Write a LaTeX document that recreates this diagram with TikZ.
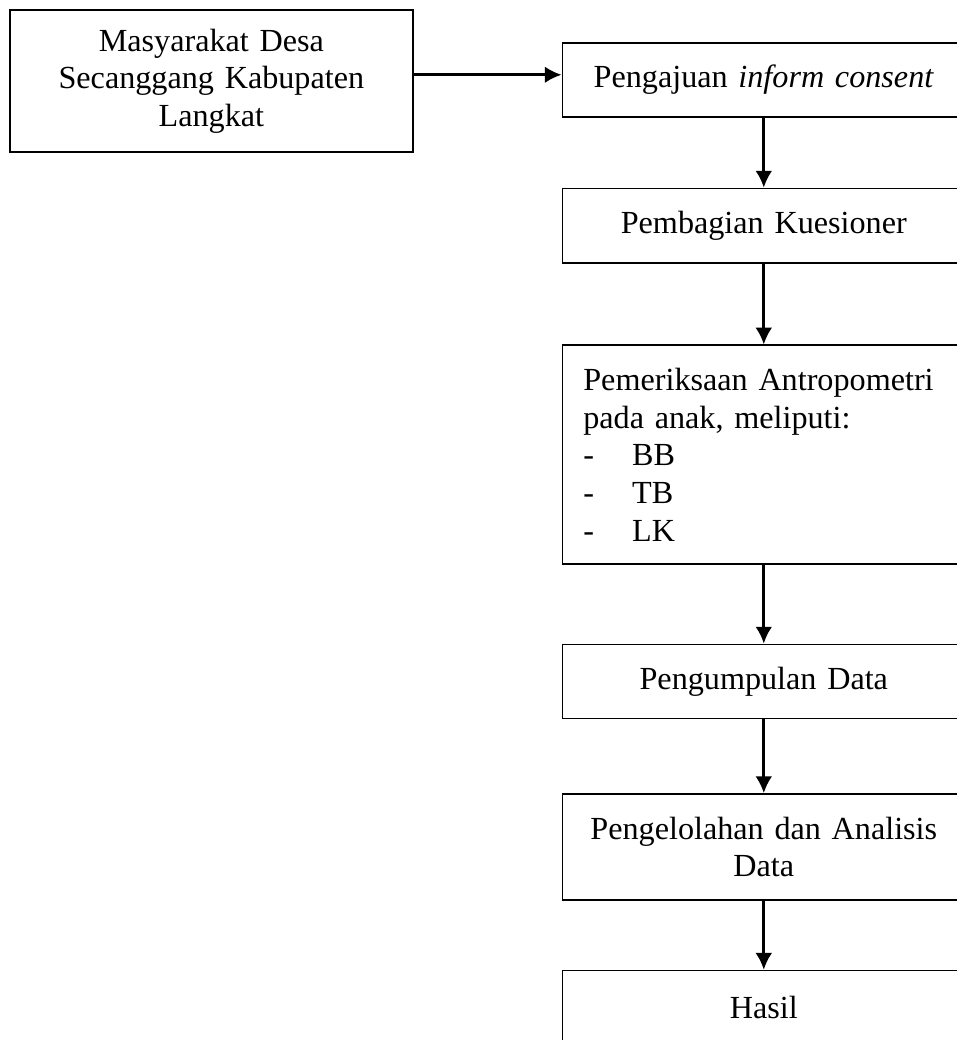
\documentclass[tikz,border=0pt]{standalone}
\usepackage{fontspec}
\setmainfont{Liberation Serif}
\usetikzlibrary{arrows.meta}

\begin{document}
\begin{tikzpicture}[
    font={\fontsize{12}{14}\selectfont},
    box/.style={draw,line width=.6pt,minimum width=5.28cm,
        text width=4.73cm,inner xsep=.275cm,align=center},
    flow/.style={-{Latex[length=2.2mm,width=2.2mm]},line width=1pt},
    ]
    \useasboundingbox (0,0) rectangle (12.53,-13.63);
    % village
    \node[box,minimum height=1.86cm] (masyarakat) at (2.77,-1.06)
        {Masyarakat Desa\\ Secanggang Kabupaten\\ Langkat};
    \coordinate (dari) at ([yshift=.08cm]masyarakat.east);

    % steps
    \node[box,minimum height=.97cm] (pengajuan) at (10.01,-1.05)
        {Pengajuan \textit{inform consent}};
    \node[box,minimum height=.98cm] (kuesioner) at (10.01,-2.96)
        {Pembagian Kuesioner};
    \node[box,align=left,minimum height=2.87cm] (pemeriksaan) at (10.01,-5.96)
        {Pemeriksaan Antropometri\\ pada anak, meliputi:\\
         \makebox[.64cm][l]{-}BB\\ \makebox[.64cm][l]{-}TB\\ \makebox[.64cm][l]{-}LK\\[-.18cm]};
    \node[box,minimum height=.97cm] (pengumpulan) at (10.01,-8.93)
        {Pengumpulan Data};
    \node[box,minimum height=1.39cm] (analisis) at (10.01,-11.10)
        {Pengelolahan dan Analisis\\ Data};
    \node[box,minimum height=.98cm] (hasil) at (10.01,-13.21)
        {Hasil};

    % arrows
    \draw[flow] (dari) -- (dari -| pengajuan.west);
    \draw[flow] (pengajuan) -- (kuesioner);
    \draw[flow] (kuesioner) -- (pemeriksaan);
    \draw[flow] (pemeriksaan) -- (pengumpulan);
    \draw[flow] (pengumpulan) -- (analisis);
    \draw[flow] (analisis) -- (hasil);
\end{tikzpicture}
\end{document}
